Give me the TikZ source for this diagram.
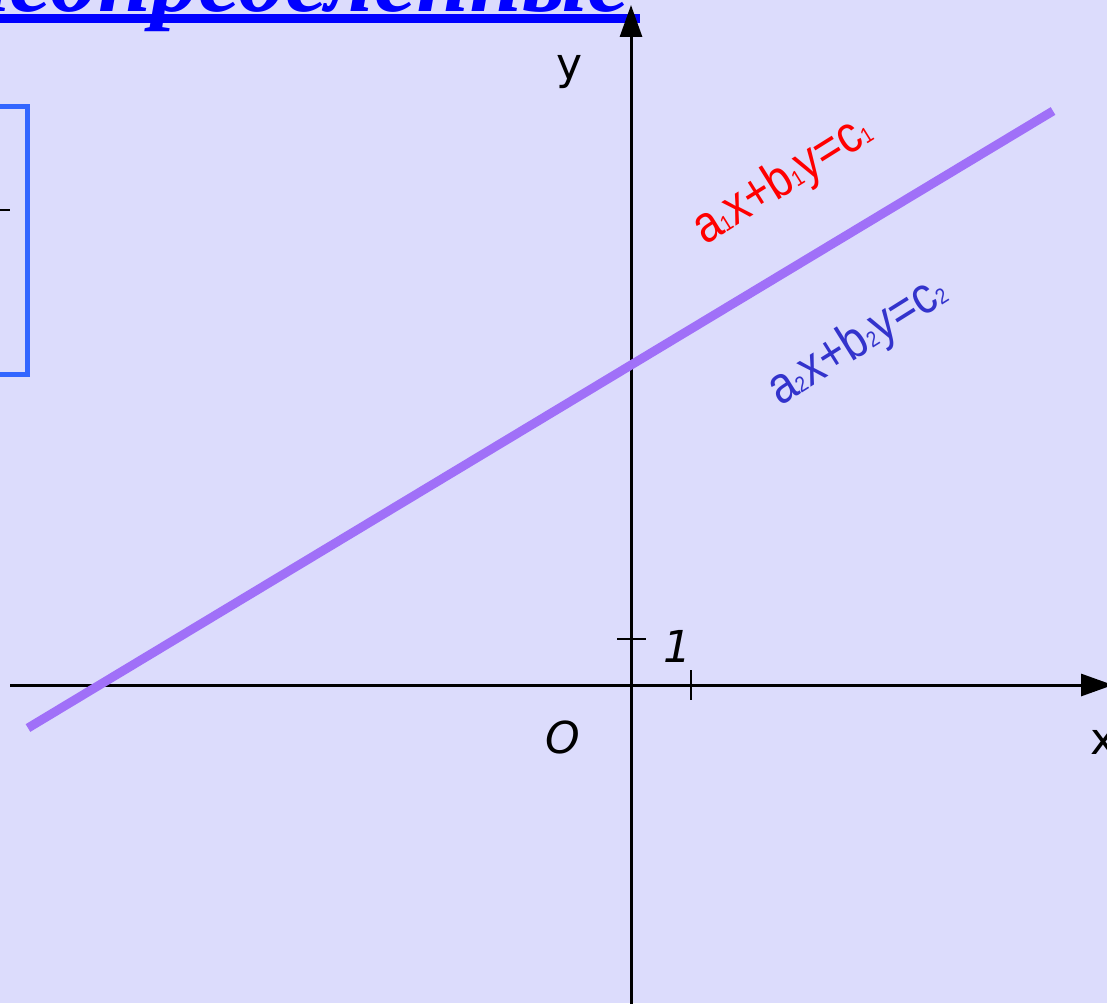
\documentclass[tikz,border=0pt]{standalone}
\usepackage{fontspec}
\setmainfont{Liberation Sans}
\newfontfamily\eqfont[FakeStretch=0.86]{Liberation Sans}
\newfontfamily\titlefont{Liberation Serif}
\newfontfamily\axfont{DejaVu Sans}
\usetikzlibrary{arrows.meta}
\definecolor{bg}{RGB}{220,220,252}
\definecolor{titleblue}{RGB}{0,0,255}
\definecolor{boxblue}{RGB}{51,102,255}
\definecolor{purp}{RGB}{160,112,248}
\definecolor{eqred}{RGB}{255,0,0}
\definecolor{eqblue}{RGB}{51,51,204}
\newcommand\sbs[1]{{\fontsize{22}{22}\selectfont #1}}
\tikzset{
  axis/.style={line width=3pt, -{Triangle[length=32pt,width=22pt]}},
  tick/.style={line width=1.5pt},
  axlabel/.style={font=\axfont\fontsize{44}{44}\selectfont, inner sep=0pt},
  eqlabel/.style={font=\eqfont\fontsize{52}{52}\selectfont, inner sep=0pt, rotate=32},
  titletext/.style={font=\titlefont\fontsize{95}{95}\selectfont\bfseries\itshape, text=titleblue, inner sep=0pt}
}
\begin{document}
\begin{tikzpicture}[x=1pt,y=-1pt]
\useasboundingbox (0,0) rectangle (1107,1003);
\clip (0,0) rectangle (1107,1003);
\fill[bg] (0,0) rectangle (1107,1003);
% title (cut off at the top)
\node[titletext, anchor=base east] (title) at (630,12) {неопределенные};
\fill[titleblue] (0,14) rectangle (640,23);
% box at the left
\draw[boxblue, line width=5pt] (-20,106.5) rectangle (27.5,374.5);
\draw[line width=2pt] (-2,210) -- (10,210);
% axes
\coordinate (xs) at (10,685);
\coordinate (xe) at (1113,685);
\coordinate (ys) at (631,1010);
\coordinate (ye) at (631,5);
\draw[axis] (xs) -- (xe);
\draw[axis] (ys) -- (ye);
\draw[tick] (617,639) -- (646,639);
\draw[tick] (691,670) -- (691,700);
\node[axlabel] (ylab) at (570,72) {y};
\node[axlabel] (xlab) at (1104,742) {x};
\node[axlabel] (one) at (677,646) {\itshape 1};
\node[axlabel] (orig) at (563,737) {\itshape O};
% line
\coordinate (la) at (28,728);
\coordinate (lb) at (1053,111);
\draw[purp, line width=9pt] (la) -- (lb);
% equations
\node[eqlabel, text=eqred] (eq1) at (783,181) {a\sbs{1}x+b\sbs{1}y=c\sbs{1}};
\node[eqlabel, text=eqblue] (eq2) at (858,342) {a\sbs{2}x+b\sbs{2}y=c\sbs{2}};
\end{tikzpicture}
\end{document}
